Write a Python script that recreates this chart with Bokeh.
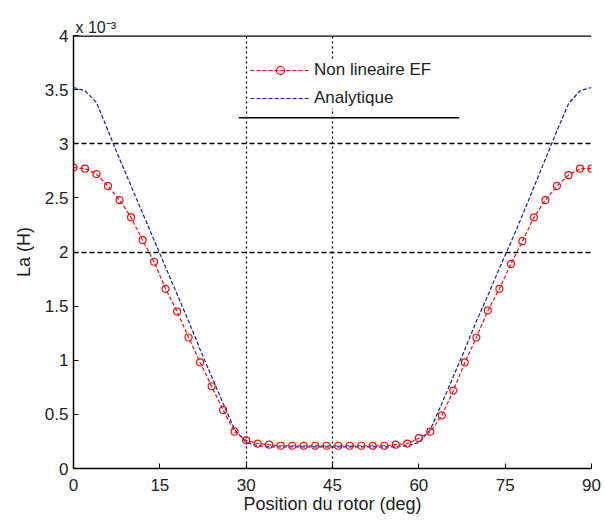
from bokeh.plotting import figure
from bokeh.models import (Range1d, FixedTicker, Legend, LegendItem, Span, Title,
                          ColumnDataSource, PolyAnnotation)
from bokeh.embed import file_html
from bokeh.resources import INLINE

# Rotor position (deg)
angle = [0, 2, 4, 6, 8, 10, 12, 14, 16, 18, 20, 22, 24, 26, 28, 30, 32, 34, 36, 38, 40, 42, 44,
         46, 48, 50, 52, 54, 56, 58, 60, 62, 64, 66, 68, 70, 72, 74, 76, 78, 80, 82, 84, 86, 88, 90]

# Inductance La, in units of 1e-3 H
la_ef = [2.78, 2.77, 2.72, 2.61, 2.48, 2.32, 2.11, 1.91, 1.66, 1.45, 1.21, 0.98, 0.76, 0.54, 0.34,
         0.26, 0.23, 0.22, 0.21, 0.21, 0.21, 0.21, 0.21, 0.21, 0.21, 0.21, 0.21, 0.21, 0.22, 0.23,
         0.28, 0.34, 0.49, 0.72, 0.98, 1.21, 1.46, 1.66, 1.89, 2.10, 2.32, 2.48, 2.61, 2.71, 2.77, 2.77]

la_analytique = [3.52, 3.49, 3.38, 3.12, 2.86, 2.61, 2.36, 2.11, 1.86, 1.61, 1.36, 1.10, 0.85, 0.60,
                 0.36, 0.24, 0.21, 0.20, 0.20, 0.20, 0.20, 0.20, 0.20, 0.20, 0.20, 0.20, 0.20, 0.20,
                 0.20, 0.21, 0.24, 0.36, 0.60, 0.85, 1.10, 1.36, 1.60, 1.85, 2.09, 2.34, 2.60, 2.86,
                 3.12, 3.37, 3.49, 3.52]

x_ticks = [0, 15, 30, 45, 60, 75, 90]
y_ticks = [0, 0.5, 1, 1.5, 2, 2.5, 3, 3.5, 4]
y_tick_labels = ["0", "0.5", "1", "1.5", "2", "2.5", "3", "3.5", "4"]
x_grid = [30, 45]
y_grid = [2, 3]

label_ef = "Non lineaire EF"
label_an = "Analytique"
exponent = "x 10\u207b\u00b3"

FONT = "Liberation Sans"
RED = "#ee1111"
BLUE = "#1a1a9e"
TXT = "#222222"

p = figure(frame_width=518, frame_height=433, output_backend="svg", toolbar_location=None,
           x_range=Range1d(0, 90), y_range=Range1d(0, 4),
           min_border_left=73, min_border_right=14, min_border_top=35, min_border_bottom=53)
p.outline_line_color = None
p.background_fill_color = "white"
p.border_fill_color = "white"

p.add_layout(Title(text=exponent, align="left", offset=2, text_font=FONT,
                   text_font_size="16px", text_font_style="normal", text_color=TXT,
                   standoff=0), "above")

src = ColumnDataSource(dict(x=angle, ef=la_ef, an=la_analytique))

r_an = p.line("x", "an", source=src, line_color=BLUE, line_width=1.2, line_dash="4 2")
r_ef = p.line("x", "ef", source=src, line_color=RED, line_width=1.2, line_dash="4 2")
r_efm = p.scatter("x", "ef", source=src, marker="circle", size=7, fill_color=None,
                  line_color=RED, line_width=1.2)

# axes
for ax in (p.xaxis[0], p.yaxis[0]):
    ax.major_tick_in = 5
    ax.major_tick_out = 0
    ax.minor_tick_in = 0
    ax.minor_tick_out = 0
    ax.axis_line_color = "black"
    ax.axis_line_width = 1.5
    ax.major_tick_line_color = "black"
    ax.major_label_text_font = FONT
    ax.major_label_text_font_size = "17px"
    ax.major_label_text_color = TXT
    ax.axis_label_text_font = FONT
    ax.axis_label_text_font_size = "18px"
    ax.axis_label_text_font_style = "normal"
    ax.axis_label_text_color = TXT

p.xaxis.ticker = FixedTicker(ticks=x_ticks)
p.yaxis.ticker = FixedTicker(ticks=y_ticks)
p.yaxis.major_label_overrides = {t: s for t, s in zip(y_ticks, y_tick_labels)}
p.xaxis.major_label_standoff = 10
p.yaxis.major_label_standoff = 5
p.xaxis.axis_label = "Position du rotor (deg)"
p.yaxis.axis_label = "La (H)"
p.xaxis.axis_label_standoff = 0
p.yaxis.axis_label_standoff = 8

# grid: only a few dashed lines
p.xgrid.ticker = FixedTicker(ticks=x_grid)
p.ygrid.ticker = FixedTicker(ticks=y_grid)
p.xgrid.grid_line_color = "black"
p.xgrid.grid_line_dash = "2 3"
p.xgrid.grid_line_width = 1.3
p.ygrid.grid_line_color = "black"
p.ygrid.grid_line_dash = "5 3"
p.ygrid.grid_line_width = 1.3

# top border
p.add_layout(Span(location=4, dimension="width", line_color="black", line_width=2.5))

legend = Legend(items=[LegendItem(label=label_ef, renderers=[r_ef, r_efm]),
                       LegendItem(label=label_an, renderers=[r_an])],
                location=(177, 360), orientation="vertical",
                glyph_width=60, glyph_height=20, label_height=20, spacing=8, padding=10,
                label_standoff=4, margin=0,
                label_text_font=FONT, label_text_font_size="17px", label_text_color=TXT,
                border_line_color=None, background_fill_color="white", background_fill_alpha=1.0)
p.add_layout(legend, "center")

# rule under the legend
p.add_layout(PolyAnnotation(xs=[28.7, 67.0], ys=[3.24, 3.24], line_color="black",
                            line_alpha=1.0, line_width=1.5, fill_color=None))

open("out.html", "w").write(file_html(p, INLINE))
